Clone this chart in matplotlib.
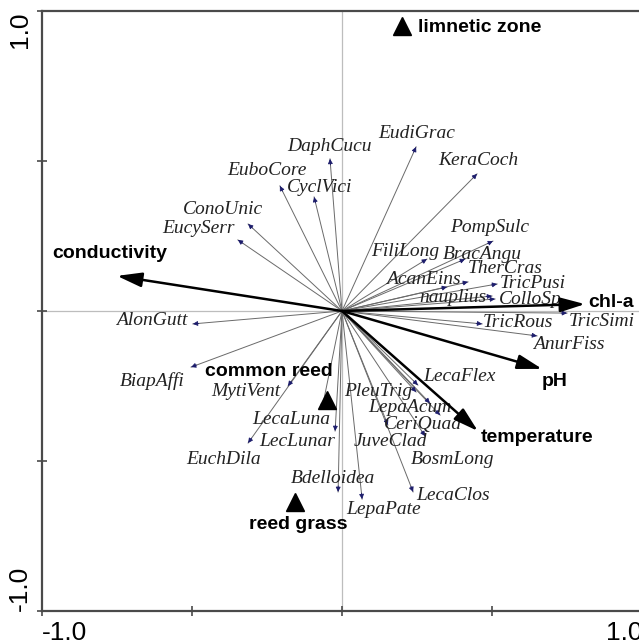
import numpy as np
import matplotlib
matplotlib.use("Agg")
import matplotlib.pyplot as plt

# Species scores (arrow tips)
species = ["DaphCucu", "EuboCore", "CyclVici", "ConoUnic", "EucySerr",
           "EudiGrac", "KeraCoch", "PompSulc", "FiliLong", "BracAngu",
           "TherCras", "AcanEins", "TricPusi", "nauplius", "ColloSp",
           "TricSimi", "TricRous", "AnurFiss", "AlonGutt", "BiapAffi",
           "MytiVent", "EuchDila", "LecaLuna", "LecLunar", "Bdelloidea",
           "LepaPate", "LecaClos", "PleuTrig", "LecaFlex", "LepaAcum",
           "CeriQuad", "JuveClad", "BosmLong"]
sp_x = [-0.040, -0.207, -0.093, -0.313, -0.347,
        0.247, 0.450, 0.503, 0.283, 0.410,
        0.420, 0.350, 0.517, 0.500, 0.510,
        0.750, 0.467, 0.650, -0.497, -0.503,
        -0.180, -0.313, -0.067, -0.023, -0.013,
        0.067, 0.237, 0.247, 0.253, 0.293,
        0.327, 0.153, 0.277]
sp_y = [0.507, 0.417, 0.380, 0.290, 0.237,
        0.547, 0.457, 0.233, 0.173, 0.173,
        0.097, 0.080, 0.090, 0.050, 0.040,
        -0.007, -0.043, -0.083, -0.043, -0.187,
        -0.250, -0.440, -0.327, -0.400, -0.603,
        -0.627, -0.603, -0.270, -0.247, -0.307,
        -0.347, -0.380, -0.417]

# Environmental variables
env = ["conductivity", "chl-a", "pH", "temperature"]
env_x = [-0.750, 0.810, 0.667, 0.453]
env_y = [0.117, 0.023, -0.193, -0.400]

# Nominal (habitat) variables
zones = ["limnetic zone", "common reed", "reed grass"]
zone_x = [0.200, -0.050, -0.157]
zone_y = [0.950, -0.297, -0.637]

# label offsets from the arrow tip, in pixels (dx, dy)
sp_off = {
    "DaphCucu": (-1, 12), "EuboCore": (-13, 15), "CyclVici": (5, 9),
    "ConoUnic": (-25, 15), "EucySerr": (-39, 11), "EudiGrac": (1, 13),
    "KeraCoch": (1, 13), "PompSulc": (-3, 14), "FiliLong": (-22, 8),
    "BracAngu": (17, 5), "TherCras": (37, 13), "AcanEins": (-24, 8),
    "TricPusi": (36, 0), "nauplius": (-39, -1), "ColloSp": (35, 0),
    "TricSimi": (35, -8), "TricRous": (36, 1), "AnurFiss": (32, -9),
    "AlonGutt": (-41, 3), "BiapAffi": (-39, -14), "MytiVent": (-42, -5),
    "EuchDila": (-25, -16), "LecaLuna": (-31, -10), "LecLunar": (-38, -11),
    "Bdelloidea": (-5, 13), "LepaPate": (21, -10), "LecaClos": (40, -4),
    "PleuTrig": (-38, 1), "LecaFlex": (42, 9), "LepaAcum": (-20, -4),
    "CeriQuad": (-17, -9), "JuveClad": (3, -17), "BosmLong": (27, -23),
}
env_off = {"conductivity": (-7, 22), "chl-a": (26, 2),
           "pH": (13, -13), "temperature": (59, -6)}
zone_off = {"limnetic zone": (16, -2), "common reed": (-58, 29),
            "reed grass": (3, -22)}
zone_ha = {"limnetic zone": "left", "common reed": "center", "reed grass": "center"}

fig = plt.figure(figsize=(6.39, 6.43), dpi=100)
ax = fig.add_axes([42 / 639, 32 / 643, 600 / 639, 600 / 643])
ax.set_xlim(-1, 1)
ax.set_ylim(-1, 1)

ax.axhline(0, color="#bdbdbd", lw=0.9, zorder=0)
ax.axvline(0, color="#bdbdbd", lw=0.9, zorder=0)

# species arrows: thin grey shafts with small navy heads
for name, x, y in zip(species, sp_x, sp_y):
    ax.plot([0, x], [0, y], color="#6a6a6a", lw=0.7, zorder=2)
    r = np.hypot(x, y)
    ux, uy = x / r, y / r
    ax.annotate("", xy=(x, y), xytext=(x - 0.02 * ux, y - 0.02 * uy),
                arrowprops=dict(arrowstyle="-|>", color="#1c1c6b", lw=0.6,
                                mutation_scale=7, shrinkA=0, shrinkB=0),
                zorder=3)
    dx, dy = sp_off[name]
    ax.annotate(name, xy=(x, y), xytext=(dx, dy), textcoords="offset pixels",
                ha="center", va="center", fontsize=14, style="italic",
                family="Liberation Serif", color="#222222", zorder=4)

# environmental arrows
for name, x, y in zip(env, env_x, env_y):
    ax.annotate("", xy=(x, y), xytext=(0, 0),
                arrowprops=dict(arrowstyle="-|>,head_length=0.75,head_width=0.22",
                                color="black", lw=1.8, mutation_scale=20,
                                shrinkA=0, shrinkB=0),
                zorder=5)
    dx, dy = env_off[name]
    ax.annotate(name, xy=(x, y), xytext=(dx, dy), textcoords="offset pixels",
                ha="center", va="center", fontsize=14, fontweight="bold",
                family="Liberation Sans", color="black", zorder=6)

# nominal variables as triangles
ax.plot(zone_x, zone_y, linestyle="none", marker="^", ms=13, color="black", zorder=6)
for name, x, y in zip(zones, zone_x, zone_y):
    dx, dy = zone_off[name]
    ax.annotate(name, xy=(x, y), xytext=(dx, dy), textcoords="offset pixels",
                ha=zone_ha[name], va="center", fontsize=14, fontweight="bold",
                family="Liberation Sans", color="black", zorder=6)

# frame and ticks
for side in ["left", "bottom", "top"]:
    ax.spines[side].set_color("#4a4a4a")
    ax.spines[side].set_linewidth(1.6)
ax.spines["right"].set_visible(False)

ticks = [-1, -0.5, 0, 0.5, 1]
ax.set_xticks(ticks)
ax.set_yticks(ticks)
ax.set_xticklabels(["-1.0", "", "", "", "1.0"])
ax.set_yticklabels(["-1.0", "", "", "", "1.0"], rotation=90)
ax.tick_params(direction="inout", length=7, width=1.2, color="#4a4a4a",
               labelsize=19, pad=4)
for lab in ax.get_xticklabels() + ax.get_yticklabels():
    lab.set_family("Liberation Sans")
xl = ax.get_xticklabels()
xl[0].set_ha("left")
xl[-1].set_ha("right")
yl = ax.get_yticklabels()
yl[0].set_va("bottom")
yl[-1].set_va("top")
for lab in yl:
    lab.set_ha("right")

fig.savefig("out.png", dpi=100)
